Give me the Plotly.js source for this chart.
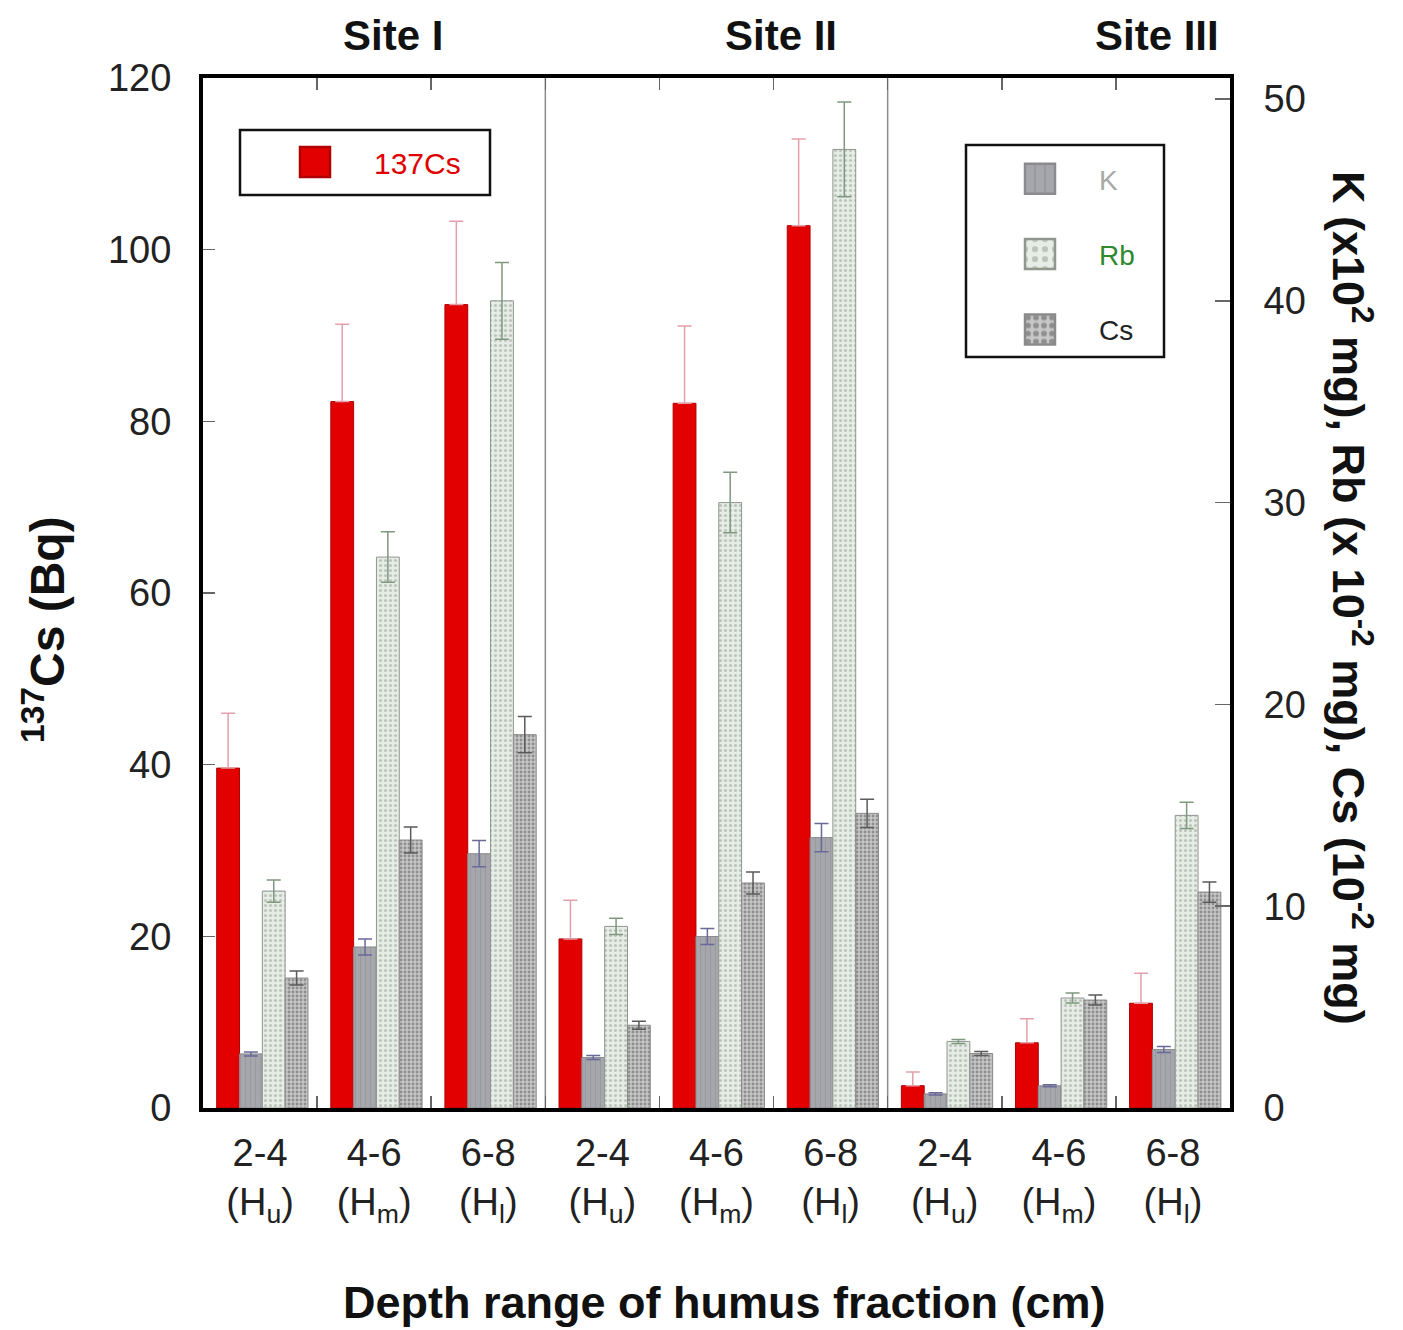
<!DOCTYPE html>
<html>
<head>
<meta charset="utf-8">
<script src="https://cdn.plot.ly/plotly-3.0.1.min.js"></script>
<style>html,body{margin:0;padding:0;background:#fff;}#chart{width:1403px;height:1330px;}</style>
</head>
<body>
<div id="chart"></div>
<script>
// ---- data ----
const depthLabels = ['2-4','4-6','6-8','2-4','4-6','6-8','2-4','4-6','6-8'];
const horizonLabels = ['u','m','l','u','m','l','u','m','l'];
const siteNames = ['Site I','Site II','Site III'];
const siteBoundaries = [2.5, 5.5];

const cs137Bq   = [39.6, 82.3, 93.6, 19.7, 82.1, 102.8, 2.6, 7.6, 12.2];
const cs137Err  = [6.4, 9.0, 9.7, 4.5, 9.0, 10.1, 1.6, 2.8, 3.5];
const kVals     = [2.68, 7.98, 12.6, 2.5, 8.5, 13.4, 0.7, 1.1, 2.9];
const kErr      = [0.1, 0.4, 0.65, 0.1, 0.4, 0.7, 0.05, 0.05, 0.15];
const rbVals    = [10.75, 27.3, 40.0, 9.0, 30.0, 47.5, 3.3, 5.45, 14.5];
const rbErr     = [0.55, 1.25, 1.9, 0.4, 1.5, 2.35, 0.1, 0.25, 0.65];
const csVals    = [6.44, 13.28, 18.5, 4.1, 11.15, 14.6, 2.7, 5.35, 10.7];
const csErr     = [0.35, 0.65, 0.9, 0.2, 0.55, 0.7, 0.1, 0.25, 0.5];

const leftTicks = [0, 20, 40, 60, 80, 100, 120];
const rightTicks = [0, 10, 20, 30, 40, 50];

// ---- build ----
const xIdx = depthLabels.map((d, i) => i);
const tickText = depthLabels.map((d, i) => d + '<br>(H<sub>' + horizonLabels[i] + '</sub>)');
const FONT = 'Arial, "Liberation Sans", Helvetica, sans-serif';
const BW = 0.2;

const traces = [
  {
    type: 'bar', name: '137Cs', x: xIdx, y: cs137Bq, yaxis: 'y',
    offset: -0.38, width: BW, legend: 'legend',
    marker: {color: '#e20000', line: {color: '#b00000', width: 1}},
    error_y: {type: 'data', array: cs137Err, arrayminus: cs137Err.map(() => 0), symmetric: false,
              color: '#e3a0aa', thickness: 1.5, width: 7}
  },
  {
    type: 'bar', name: '<span style="color:#a8a8a8">K</span>', x: xIdx, y: kVals, yaxis: 'y2',
    offset: -0.18, width: BW, legend: 'legend2', legendgroup: 'k',
    marker: {color: '#a3a3aa', line: {color: '#8a8a90', width: 1},
             pattern: {shape: '|', fgcolor: '#99999f', bgcolor: '#a6a6ad', size: 5, solidity: 0.2}},
    error_y: {type: 'data', array: kErr, color: '#6a6a9a', thickness: 1.5, width: 7}
  },
  {
    type: 'bar', name: '<span style="color:#2f8a2f">Rb</span>', x: xIdx, y: rbVals, yaxis: 'y2',
    offset: 0.02, width: BW, legend: 'legend2', legendgroup: 'rb',
    marker: {color: '#e4ebe4', line: {color: '#8f978f', width: 1},
             pattern: {shape: '.', fgcolor: '#bcc4bc', bgcolor: '#e6ede6', size: 5, solidity: 0.3}},
    error_y: {type: 'data', array: rbErr, color: '#7f987f', thickness: 1.5, width: 7}
  },
  {
    type: 'bar', name: '<span style="color:#222">Cs</span>', x: xIdx, y: csVals, yaxis: 'y2',
    offset: 0.22, width: BW, legend: 'legend2', legendgroup: 'cs',
    marker: {color: '#b4b4b4', line: {color: '#8a8a8a', width: 1},
             pattern: {shape: '.', fgcolor: '#8e8e8e', bgcolor: '#c6c6c6', size: 4, solidity: 0.4}},
    error_y: {type: 'data', array: csErr, color: '#5a5a5a', thickness: 1.5, width: 7}
  }
];

const W = 1403, H = 1330, L = 203, R = 173, T = 78, B = 222;
const pw = W - L - R, ph = H - T - B;
const px = v => (v - L) / pw;            // pixel x -> paper
const py = v => (H - B - v) / ph;        // pixel y -> paper

const siteX = [393, 781, 1157];
const annotations = siteNames.map((s, i) => ({
  text: s, xref: 'paper', yref: 'paper', x: px(siteX[i]), y: py(35),
  xanchor: 'center', yanchor: 'middle', showarrow: false,
  font: {family: FONT, size: 42, color: '#111', weight: 'bold'}
}));
annotations.push({
  text: '<sup>137</sup>Cs (Bq)', xref: 'paper', yref: 'paper', x: px(44), y: py(630),
  xanchor: 'center', yanchor: 'middle', textangle: -90, showarrow: false,
  font: {family: FONT, size: 48, color: '#111', weight: 'bold'}
});
annotations.push({
  text: 'K (x10<sup>2</sup> mg), Rb (x 10<sup>-2</sup> mg), Cs (10<sup>-2</sup> mg)',
  xref: 'paper', yref: 'paper', x: px(1352), y: py(598),
  xanchor: 'center', yanchor: 'middle', textangle: 90, showarrow: false,
  font: {family: FONT, size: 45, color: '#111', weight: 'bold'}
});
annotations.push({
  text: 'Depth range of humus fraction (cm)', xref: 'paper', yref: 'paper',
  x: px(724), y: py(1302), xanchor: 'center', yanchor: 'middle', showarrow: false,
  font: {family: FONT, size: 45, color: '#111', weight: 'bold'}
});

const shapes = siteBoundaries.map(b => ({
  type: 'line', xref: 'x', yref: 'paper', x0: b, x1: b, y0: 0, y1: 1,
  line: {color: '#8c8c8c', width: 1.5}, layer: 'below'
}));
shapes.push({type: 'rect', xref: 'paper', yref: 'paper', x0: px(240), x1: px(490), y0: py(195), y1: py(130),
  line: {color: '#111', width: 2.5}, fillcolor: 'rgba(0,0,0,0)'});
shapes.push({type: 'rect', xref: 'paper', yref: 'paper', x0: px(966), x1: px(1164), y0: py(357), y1: py(145),
  line: {color: '#111', width: 2.5}, fillcolor: 'rgba(0,0,0,0)'});

const layout = {
  width: W, height: H,
  margin: {l: L, r: R, t: T, b: B, pad: 0},
  paper_bgcolor: '#fff', plot_bgcolor: '#fff',
  font: {family: FONT, color: '#111'},
  barmode: 'overlay',
  xaxis: {
    range: [-0.5, 8.5], tickmode: 'array', tickvals: xIdx, ticktext: tickText,
    ticks: 'inside', ticklen: 0, tickwidth: 0,
    showline: true, linecolor: '#000', linewidth: 4, mirror: 'ticks',
    showgrid: false, zeroline: false, ticklabelstandoff: 8,
    tickfont: {family: FONT, size: 38, color: '#222'},
    minor: {tickvals: [0.5, 1.5, 2.5, 3.5, 4.5, 5.5, 6.5, 7.5], ticks: 'inside', ticklen: 12,
            tickwidth: 1.5, tickcolor: '#666', showgrid: false}
  },
  yaxis: {
    range: [0, 120], tickmode: 'array', tickvals: leftTicks,
    ticks: 'inside', ticklen: 12, tickwidth: 1.5, tickcolor: '#666',
    showline: true, linecolor: '#000', linewidth: 4,
    showgrid: false, zeroline: false, ticklabelstandoff: 20,
    tickfont: {family: FONT, size: 38, color: '#222'}
  },
  yaxis2: {
    overlaying: 'y', side: 'right',
    range: [0, 51.04], tickmode: 'array', tickvals: rightTicks,
    ticks: 'inside', ticklen: 15, tickwidth: 1.5, tickcolor: '#666',
    showline: true, linecolor: '#000', linewidth: 4,
    showgrid: false, zeroline: false, ticklabelstandoff: 22,
    tickfont: {family: FONT, size: 38, color: '#222'}
  },
  showlegend: true,
  legend: {
    x: px(256), y: py(136), xanchor: 'left', yanchor: 'top',
    bgcolor: 'rgba(0,0,0,0)', borderwidth: 0, itemwidth: 108,
    font: {family: FONT, size: 30, color: '#e00000'}
  },
  legend2: {
    x: px(981), y: py(154), xanchor: 'left', yanchor: 'top',
    bgcolor: 'rgba(0,0,0,0)', borderwidth: 0, itemwidth: 108,
    traceorder: 'grouped', tracegroupgap: 36,
    font: {family: FONT, size: 28, color: '#222'}
  },
  annotations: annotations,
  shapes: shapes
};

Plotly.newPlot('chart', traces, layout, {staticPlot: true, displayModeBar: false}).then(gd => {
  gd.querySelectorAll('.legendpoints path').forEach(p => {
    const t = p.getAttribute('transform') || '';
    p.setAttribute('transform', t + ' scale(2.5)');
  });
});
</script>
</body>
</html>
